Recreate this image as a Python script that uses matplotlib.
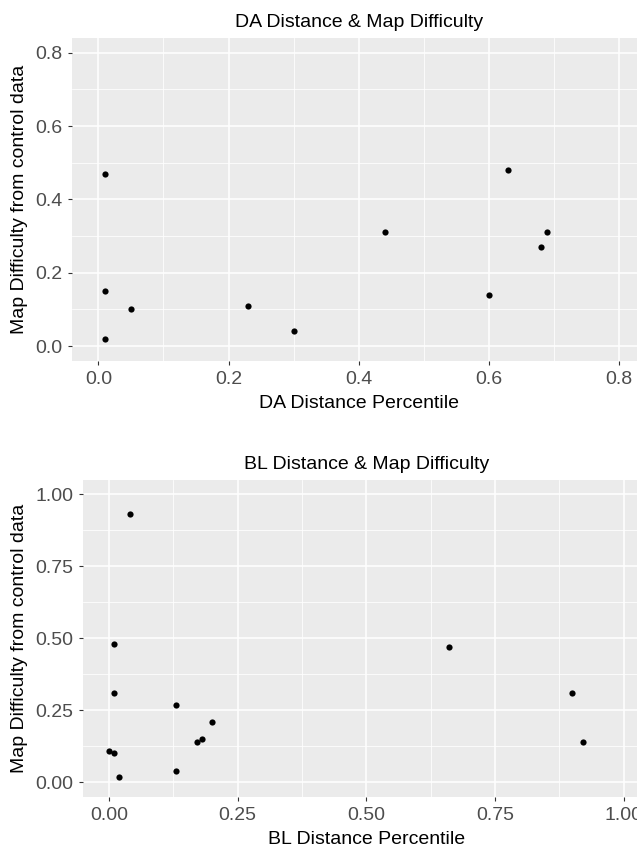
import matplotlib
matplotlib.use("Agg")
import matplotlib.pyplot as plt
import numpy as np

plt.rcParams['font.family'] = ['Liberation Sans', 'DejaVu Sans']

# DA panel
da_x = [0.01, 0.01, 0.05, 0.01, 0.23, 0.30, 0.44, 0.63, 0.69, 0.68, 0.60]
da_y = [0.47, 0.15, 0.10, 0.02, 0.11, 0.04, 0.31, 0.48, 0.31, 0.27, 0.14]
da_ticks = [0.0, 0.2, 0.4, 0.6, 0.8]
da_labels = ["0.0", "0.2", "0.4", "0.6", "0.8"]

# BL panel
bl_x = [0.04, 0.01, 0.01, 0.13, 0.20, 0.17, 0.18, 0.00, 0.01, 0.02, 0.13, 0.66, 0.90, 0.92]
bl_y = [0.93, 0.48, 0.31, 0.27, 0.21, 0.14, 0.15, 0.11, 0.10, 0.02, 0.04, 0.47, 0.31, 0.14]
bl_ticks = [0.0, 0.25, 0.5, 0.75, 1.0]
bl_labels = ["0.00", "0.25", "0.50", "0.75", "1.00"]

fig = plt.figure(figsize=(6.37, 8.47), dpi=100)
ax1 = fig.add_axes([0.1137, 0.5741, 0.8984, 0.3810])
ax2 = fig.add_axes([0.1308, 0.0594, 0.8887, 0.3740])


def style(ax, ticks, labels, hi, title, xlabel):
    step = ticks[1] - ticks[0]
    minor = [t + step / 2 for t in ticks[:-1]]
    ax.set_facecolor('#EBEBEB')
    for s in ax.spines.values():
        s.set_visible(False)
    ax.set_xlim(-0.05 * hi, 1.05 * hi)
    ax.set_ylim(-0.05 * hi, 1.05 * hi)
    ax.set_xticks(ticks)
    ax.set_xticklabels(labels)
    ax.set_yticks(ticks)
    ax.set_yticklabels(labels)
    ax.set_xticks(minor, minor=True)
    ax.set_yticks(minor, minor=True)
    ax.grid(True, which='major', color='white', linewidth=1.1)
    ax.grid(True, which='minor', color='white', linewidth=0.55)
    ax.set_axisbelow(True)
    ax.tick_params(which='major', length=2.75, width=0.8, color='#333333',
                   labelsize=14, labelcolor='#4D4D4D', pad=4.4)
    ax.tick_params(which='minor', length=0)
    ax.set_title(title, fontsize=14, pad=8)
    ax.set_xlabel(xlabel, fontsize=14, labelpad=5)
    ax.set_ylabel('Map Difficulty from control data', fontsize=14, labelpad=5)


style(ax1, da_ticks, da_labels, 0.8, 'DA Distance & Map Difficulty', 'DA Distance Percentile')
ax1.scatter(da_x, da_y, s=20, color='black', zorder=3, linewidths=0)

style(ax2, bl_ticks, bl_labels, 1.0, 'BL Distance & Map Difficulty', 'BL Distance Percentile')
ax2.scatter(bl_x, bl_y, s=20, color='black', zorder=3, linewidths=0)

fig.savefig('out.png', dpi=100)
